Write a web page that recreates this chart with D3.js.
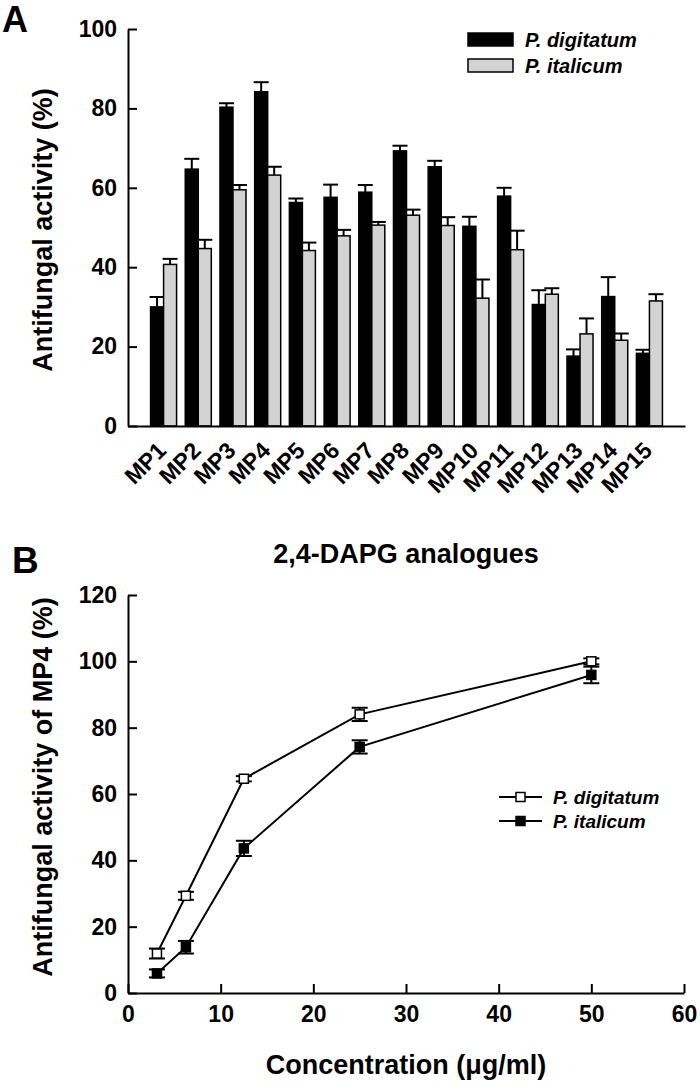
<!DOCTYPE html>
<html>
<head>
<meta charset="utf-8">
<script src="https://cdn.jsdelivr.net/npm/d3@7"></script>
<style>
  body { margin: 0; background: #fff; }
  svg text { font-family: "Liberation Sans", Arial, sans-serif; font-weight: bold; }
  .axis path, .axis line { stroke: #000; stroke-width: 2; }
  .axis text { font-size: 23px; fill: #000; }
</style>
</head>
<body>
<div id="viz"></div>
<script>
// Panel A: antifungal activity of the analogues
const analogues = ["MP1","MP2","MP3","MP4","MP5","MP6","MP7","MP8","MP9","MP10","MP11","MP12","MP13","MP14","MP15"];
const digitatum = [30.0,64.7,80.3,84.2,56.3,57.6,58.9,69.3,65.3,50.3,57.9,30.6,17.6,32.6,18.3];
const digitatumErr = [2.5,2.6,1.0,2.4,1.0,3.2,1.8,1.3,1.5,2.4,2.1,3.6,1.7,4.9,0.9];
const italicum = [40.7,44.7,59.5,63.2,44.2,47.9,50.6,53.1,50.5,32.2,44.4,33.2,23.2,21.6,31.5];
const italicumErr = [1.4,2.2,1.2,2.1,2.0,1.5,0.8,1.4,2.1,4.7,4.8,1.5,3.9,1.7,1.7];
const yTicksA = [0,20,40,60,80,100];

// Panel B: dose response of MP4
const conc = [3.125,6.25,12.5,25,50];
const digB = [11.9,29.3,64.6,84.0,100.0];
const digBErr = [1.5,1.2,0.8,2.0,0.9];
const itaB = [5.9,13.8,43.6,74.2,95.9];
const itaBErr = [1.2,1.9,2.3,2.0,2.5];
const xTicksB = [0,10,20,30,40,50,60];
const yTicksB = [0,20,40,60,80,100,120];

const species = ["P. digitatum","P. italicum"];
const fills = ["#000000","#d3d3d3"];

const svg = d3.select("#viz").append("svg")
  .attr("width", 700)
  .attr("height", 1089);

// ---------- panel A ----------
const xA = d3.scaleBand()
  .domain(analogues)
  .range([128, 685])
  .paddingInner(0.25)
  .paddingOuter(0.65);

const sub = d3.scaleBand()
  .domain(species)
  .range([0, xA.bandwidth()]);

const yA = d3.scaleLinear().domain([0, 100]).range([426, 29]);

const rowsA = analogues.map((c, i) => ({
  cat: c,
  vals: [
    {s: species[0], v: digitatum[i], e: digitatumErr[i], f: fills[0]},
    {s: species[1], v: italicum[i], e: italicumErr[i], f: fills[1]}
  ]
}));

const groups = svg.append("g").selectAll("g")
  .data(rowsA)
  .enter()
  .append("g")
  .attr("transform", d => `translate(${xA(d.cat)},0)`);

const bars = groups.selectAll("g")
  .data(d => d.vals)
  .enter()
  .append("g");

// error bars (upper only)
bars.append("line")
  .attr("x1", d => sub(d.s) + sub.bandwidth() / 2)
  .attr("x2", d => sub(d.s) + sub.bandwidth() / 2)
  .attr("y1", d => yA(d.v))
  .attr("y2", d => yA(d.v + d.e))
  .attr("stroke", "#000")
  .attr("stroke-width", 2);
bars.append("line")
  .attr("x1", d => sub(d.s) + sub.bandwidth() / 2 - 7.5)
  .attr("x2", d => sub(d.s) + sub.bandwidth() / 2 + 7.5)
  .attr("y1", d => yA(d.v + d.e))
  .attr("y2", d => yA(d.v + d.e))
  .attr("stroke", "#000")
  .attr("stroke-width", 2);

bars.append("rect")
  .attr("x", d => sub(d.s))
  .attr("y", d => yA(d.v))
  .attr("width", sub.bandwidth())
  .attr("height", d => yA(0) - yA(d.v))
  .attr("fill", d => d.f)
  .attr("stroke", "#000")
  .attr("stroke-width", 1.5);

svg.append("g")
  .attr("class", "axis")
  .attr("transform", "translate(128,0)")
  .call(d3.axisLeft(yA).tickValues(yTicksA).tickSizeInner(-9).tickSizeOuter(0).tickPadding(11));

const xAxisA = svg.append("g")
  .attr("class", "axis")
  .attr("transform", `translate(0,${yA(0)})`)
  .call(d3.axisBottom(xA).tickSize(0).tickSizeOuter(0));
xAxisA.selectAll("text")
  .attr("x", null).attr("y", null).attr("dy", null)
  .attr("text-anchor", "end")
  .attr("font-size", "21px")
  .attr("transform", "translate(4,26) rotate(-45)");

svg.append("text")
  .attr("transform", "translate(52,230) rotate(-90)")
  .attr("text-anchor", "middle")
  .attr("font-size", "27px")
  .text("Antifungal activity (%)");

svg.append("text")
  .attr("x", 406)
  .attr("y", 563)
  .attr("text-anchor", "middle")
  .attr("font-size", "27px")
  .text("2,4-DAPG analogues");

svg.append("text")
  .attr("x", 2).attr("y", 32)
  .attr("font-size", "36px")
  .text("A");

// legend A
const legA = svg.append("g").selectAll("g")
  .data(species)
  .enter()
  .append("g")
  .attr("transform", (d, i) => `translate(468,${33 + i * 26})`);
legA.append("rect")
  .attr("width", 45).attr("height", 13)
  .attr("fill", (d, i) => fills[i])
  .attr("stroke", "#000").attr("stroke-width", 1.5);
legA.append("text")
  .attr("x", 57).attr("y", 14)
  .attr("font-size", "20px")
  .attr("font-style", "italic")
  .text(d => d);

// ---------- panel B ----------
const xB = d3.scaleLinear().domain([0, 60]).range([128, 684]);
const yB = d3.scaleLinear().domain([0, 120]).range([993, 595]);

const seriesB = [
  {name: species[0], vals: conc.map((c, i) => ({x: c, y: digB[i], e: digBErr[i]})), fill: "#fff"},
  {name: species[1], vals: conc.map((c, i) => ({x: c, y: itaB[i], e: itaBErr[i]})), fill: "#000"}
];

const line = d3.line().x(d => xB(d.x)).y(d => yB(d.y));

svg.append("g")
  .attr("class", "axis")
  .attr("transform", "translate(128,0)")
  .call(d3.axisLeft(yB).tickValues(yTicksB).tickSizeInner(-9).tickSizeOuter(0).tickPadding(11));

svg.append("g")
  .attr("class", "axis")
  .attr("transform", `translate(0,${yB(0)})`)
  .call(d3.axisBottom(xB).tickValues(xTicksB).tickSizeInner(-9).tickSizeOuter(0).tickPadding(13));

const sB = svg.append("g").selectAll("g")
  .data(seriesB)
  .enter()
  .append("g");

sB.append("path")
  .attr("d", d => line(d.vals))
  .attr("fill", "none")
  .attr("stroke", "#000")
  .attr("stroke-width", 2);

const pts = sB.selectAll("g.pt")
  .data(d => d.vals.map(v => Object.assign({fill: d.fill}, v)))
  .enter()
  .append("g")
  .attr("class", "pt");

pts.append("line")
  .attr("x1", d => xB(d.x)).attr("x2", d => xB(d.x))
  .attr("y1", d => yB(d.y - d.e)).attr("y2", d => yB(d.y + d.e))
  .attr("stroke", "#000").attr("stroke-width", 2);
[-1, 1].forEach(sgn => {
  pts.append("line")
    .attr("x1", d => xB(d.x) - 8).attr("x2", d => xB(d.x) + 8)
    .attr("y1", d => yB(d.y + sgn * d.e)).attr("y2", d => yB(d.y + sgn * d.e))
    .attr("stroke", "#000").attr("stroke-width", 2);
});
pts.append("rect")
  .attr("x", d => xB(d.x) - 4.5).attr("y", d => yB(d.y) - 4.5)
  .attr("width", 9).attr("height", 9)
  .attr("fill", d => d.fill)
  .attr("stroke", "#000").attr("stroke-width", 1.5);

svg.append("text")
  .attr("transform", "translate(52,787) rotate(-90)")
  .attr("text-anchor", "middle")
  .attr("font-size", "27px")
  .text("Antifungal activity of MP4 (%)");

svg.append("text")
  .attr("x", 406)
  .attr("y", 1074)
  .attr("text-anchor", "middle")
  .attr("font-size", "27px")
  .text("Concentration (μg/ml)");

svg.append("text")
  .attr("x", 12).attr("y", 573)
  .attr("font-size", "37px")
  .text("B");

// legend B
const legB = svg.append("g").selectAll("g")
  .data(seriesB)
  .enter()
  .append("g")
  .attr("transform", (d, i) => `translate(499,${797 + i * 24})`);
legB.append("line")
  .attr("x1", 0).attr("x2", 43)
  .attr("stroke", "#000").attr("stroke-width", 2);
legB.append("rect")
  .attr("x", 17).attr("y", -4.5)
  .attr("width", 9).attr("height", 9)
  .attr("fill", d => d.fill)
  .attr("stroke", "#000").attr("stroke-width", 1.5);
legB.append("text")
  .attr("x", 54).attr("y", 7)
  .attr("font-size", "19px")
  .attr("font-style", "italic")
  .text(d => d.name);
</script>
</body>
</html>
